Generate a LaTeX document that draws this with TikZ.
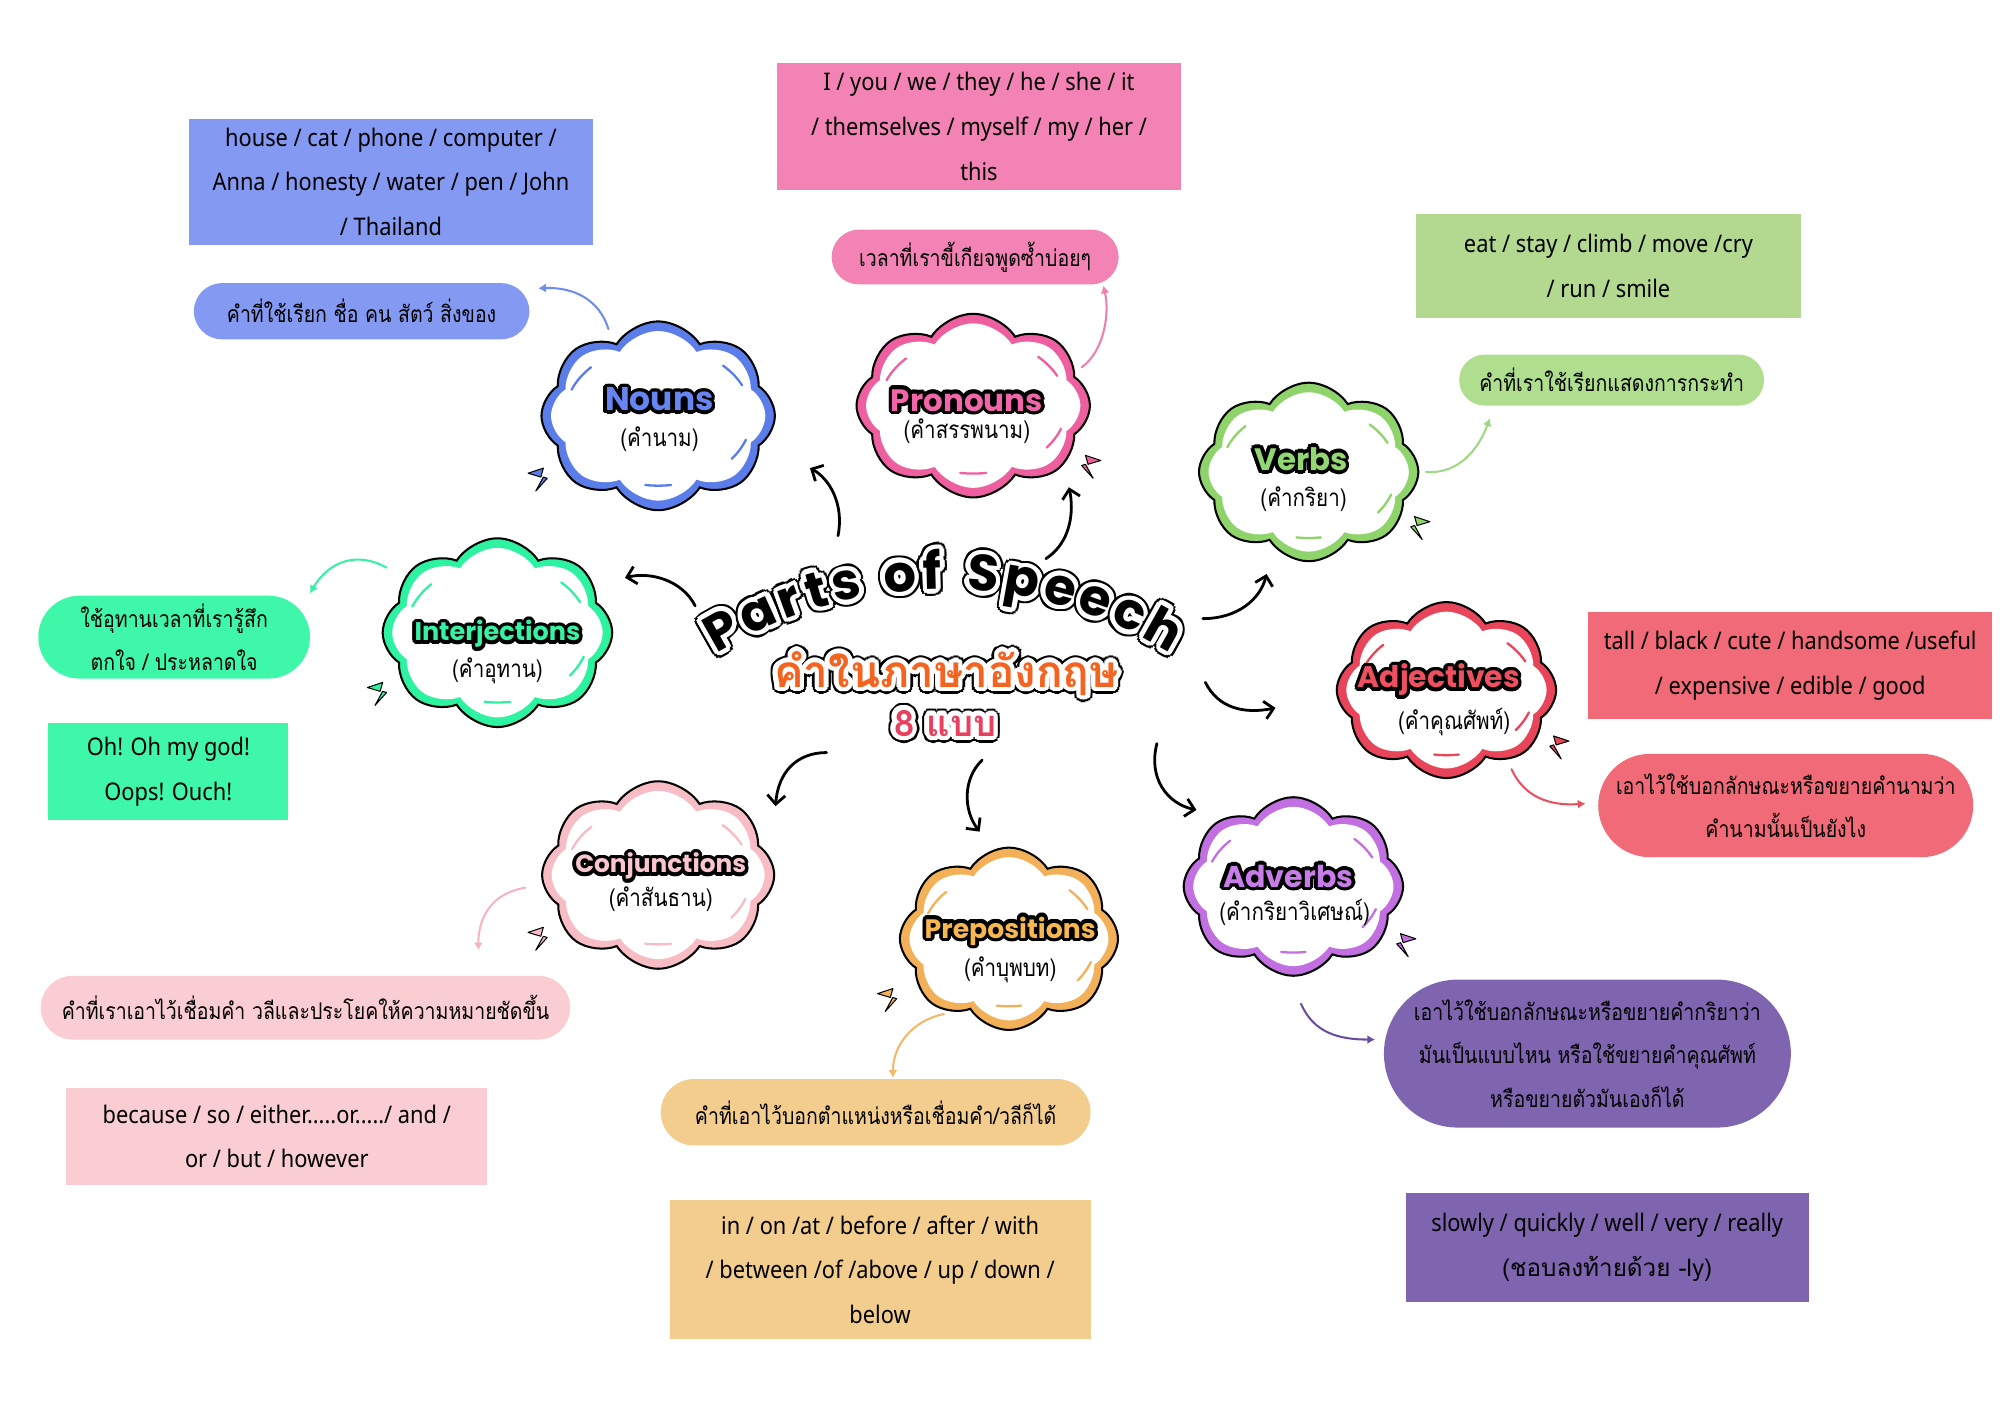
\documentclass[tikz,border=0pt]{standalone}
\usepackage{graphicx}
\usepackage{fontspec}
\usetikzlibrary{shapes.symbols,shapes.misc,arrows.meta}
\setmainfont{Noto Sans}
\newfontfamily\thai[Script=Thai]{Loma}
\newfontfamily\thain[Script=Thai,FakeStretch=0.85]{Loma}
\newfontfamily\hand[FakeStretch=0.9]{Noto Sans}
\newfontfamily\bub{Poppins}

\definecolor{nounL}{HTML}{8399F2}\definecolor{nounS}{HTML}{5B7DEA}\definecolor{nounT}{HTML}{6685F0}\definecolor{nounA}{HTML}{6E8CEB}
\definecolor{proL}{HTML}{F383B5}\definecolor{proS}{HTML}{EE5FA0}\definecolor{proT}{HTML}{F066A9}\definecolor{proA}{HTML}{EE7DB0}
\definecolor{verbL}{HTML}{B2D98F}\definecolor{verbP}{HTML}{B0DE8F}\definecolor{verbS}{HTML}{8ED46B}\definecolor{verbT}{HTML}{93D774}\definecolor{verbA}{HTML}{9ED883}
\definecolor{adjL}{HTML}{F06A77}\definecolor{adjS}{HTML}{E8455B}\definecolor{adjT}{HTML}{EE5060}\definecolor{adjA}{HTML}{E8505F}
\definecolor{advL}{HTML}{7F64AF}\definecolor{advS}{HTML}{C16FE1}\definecolor{advT}{HTML}{C77CE7}\definecolor{advA}{HTML}{6A4CA3}
\definecolor{prepL}{HTML}{F2CD8D}\definecolor{prepS}{HTML}{F2B158}\definecolor{prepT}{HTML}{F6B650}\definecolor{prepA}{HTML}{F2B868}
\definecolor{conjL}{HTML}{F9CDD1}\definecolor{conjS}{HTML}{F7BCC4}\definecolor{conjT}{HTML}{F9C6CD}\definecolor{conjA}{HTML}{F5B5BE}
\definecolor{intL}{HTML}{3FF7A8}\definecolor{intS}{HTML}{2DF2A0}\definecolor{intT}{HTML}{38F2A3}\definecolor{intA}{HTML}{3AEFA3}
\definecolor{thaiOr}{HTML}{F4631F}\definecolor{eightC}{HTML}{E8405F}

% outlined text: copies of the content around a circle
\newcommand\ringcopies[3]{%
  \foreach \oa in {0,22.5,...,337.5}{%
    \pgfmathsetlengthmacro\oltdx{#2*cos(\oa)}%
    \pgfmathsetlengthmacro\oltdy{#2*sin(\oa)}%
    \rlap{\kern\oltdx\raisebox{\oltdy}{\color{#1}#3}}}}
\newcommand\olt[4]{\hbox{\ringcopies{#2}{#3}{#4}{\color{#1}#4}}}
\newcommand\oltt[6]{\hbox{\ringcopies{#3}{#5}{#6}\ringcopies{#2}{#4}{#6}{\color{#1}#6}}}
\newcommand\ttl[3]{\olt{#1}{black}{2.8}{\resizebox{#2}{!}{\bub\bfseries #3}}}

\tikzset{
  listbox/.style={rectangle, inner sep=0pt, font=\hand\fontsize{19}{35}\selectfont, align=center, text=black},
  pillbox/.style={rounded rectangle, inner sep=0pt, font=\thain\fontsize{18}{34}\selectfont, align=center, text=black},
  cloudo/.style={cloud, cloud puffs=8, cloud puff arc=115, cloud ignores aspect, draw=black, line width=1.6pt, inner sep=0pt},
  cloudi/.style={cloud, cloud puffs=8, cloud puff arc=115, cloud ignores aspect, fill=white, inner sep=0pt},
  mainarrow/.style={draw=black, line width=2.2pt, line cap=round, -{Straight Barb[length=7pt,width=14pt]}},
  subarrow/.style={line width=1.6pt, line cap=round, -{Latex[length=6pt,width=7pt]}},
  subttl/.style={font=\thain\fontsize{19}{20}\selectfont, inner sep=0pt, text=black},
  ttlnode/.style={inner sep=0pt},
}

\newcommand\cloudhl[5]{%
  \begin{scope}[shift={(#1,#2)}]
  \foreach \hs/\he in {-158/-136, -46/-26, 20/38, 82/98}{%
    \draw[#5, line width=1.8pt, line cap=round] plot[domain=\hs:\he, samples=9, smooth] ({0.40*#3*cos(\x)},{0.37*#4*sin(\x)});
  }
  \end{scope}}
\newcommand\mkcloud[6]{%
  \node[cloudo, fill=#6, minimum width=#4, minimum height=#5] (#1) at (#2,#3) {};
  \node[cloudi, minimum width=#4-15, minimum height=#5-15] (#1in) at (#2,#3) {};
  \cloudhl{#2}{#3}{#4}{#5}{#6}}
\newcommand\spark[4]{%
  \begin{scope}[shift={(#1,#2)}, xscale=#3]
    \filldraw[fill=#4, draw=black, line width=0.8pt, line join=round] (0,4) -- (12,0) -- (10,7) -- cycle;
    \filldraw[fill=#4, draw=black, line width=0.8pt, line join=round] (6,18) -- (12,7) -- (15,8) -- cycle;
  \end{scope}}

\begin{document}
\begin{tikzpicture}[x=1pt,y=-1pt]
\useasboundingbox (0,0) rectangle (1568,1109);
\fill[white] (0,0) rectangle (1568,1109);

% ---------- list boxes ----------
\node[listbox, fill=nounL, minimum width=317, minimum height=99] (nounlist) at (306.5,142.5) {house / cat / phone / computer /\\Anna / honesty / water / pen / John\\/ Thailand};
\node[listbox, fill=proL, minimum width=317, minimum height=100] (prolist) at (767.5,99) {I / you / we / they / he / she / it\\/ themselves / myself / my / her /\\this};
\node[listbox, fill=verbL, minimum width=302, minimum height=81] (verblist) at (1261,208.5) {eat / stay / climb / move /cry\\/ run / smile};
\node[listbox, fill=adjL, minimum width=317, minimum height=84] (adjlist) at (1403.5,522) {tall / black / cute / handsome /useful\\/ expensive / edible / good};
\node[listbox, fill=advL, minimum width=316, minimum height=86] (advlist) at (1260,978) {slowly / quickly / well / very / really\\{\thai (ชอบลงท้ายด้วย -ly)}};
\node[listbox, fill=prepL, minimum width=330, minimum height=109] (preplist) at (690,995.5) {in / on /at / before / after / with\\/ between /of /above / up / down /\\below};
\node[listbox, fill=conjL, minimum width=330, minimum height=76] (conjlist) at (217,891) {because / so / either.....or...../ and /\\or / but / however};
\node[listbox, fill=intL, minimum width=188, minimum height=76] (intlist) at (132,605) {Oh! Oh my god!\\Oops! Ouch!};

% ---------- pills ----------
\node[pillbox, fill=nounL, minimum width=263, minimum height=44] (nounpill) at (283.5,244) {คำที่ใช้เรียก ชื่อ คน สัตว์ สิ่งของ};
\node[pillbox, fill=proL, minimum width=225, minimum height=43] (propill) at (764.5,201.5) {เวลาที่เราขี้เกียจพูดซ้ำบ่อยๆ};
\node[pillbox, fill=verbP, minimum width=239, minimum height=40] (verbpill) at (1263.5,298) {คำที่เราใช้เรียกแสดงการกระทำ};
\node[pillbox, fill=adjL, minimum width=294, minimum height=81] (adjpill) at (1400,631.5) {เอาไว้ใช้บอกลักษณะหรือขยายคำนามว่า\\คำนามนั้นเป็นยังไง};
\node[pillbox, fill=advL, minimum width=319, minimum height=116] (advpill) at (1244.5,826) {เอาไว้ใช้บอกลักษณะหรือขยายคำกริยาว่า\\มันเป็นแบบไหน หรือใช้ขยายคำคุณศัพท์\\หรือขยายตัวมันเองก็ได้};
\node[pillbox, fill=prepL, minimum width=337, minimum height=52] (preppill) at (686.5,872) {คำที่เอาไว้บอกตำแหน่งหรือเชื่อมคำ/วลีก็ได้};
\node[pillbox, fill=conjL, minimum width=415, minimum height=50] (conjpill) at (239.5,790) {คำที่เราเอาไว้เชื่อมคำ วลีและประโยคให้ความหมายชัดขึ้น};
\node[pillbox, fill=intL, minimum width=213, minimum height=65] (intpill) at (136.5,499.5) {ใช้อุทานเวลาที่เรารู้สึก\\ตกใจ / ประหลาดใจ};

% ---------- clouds ----------
\mkcloud{nouns}{516}{326}{183}{148}{nounS}
\mkcloud{pron}{763}{318}{183}{144}{proS}
\mkcloud{verbs}{1026}{370}{172}{140}{verbS}
\mkcloud{adjs}{1134}{541}{172}{138}{adjS}
\mkcloud{advs}{1014}{695}{172}{140}{advS}
\mkcloud{preps}{791}{736}{171}{143}{prepS}
\mkcloud{conjs}{516}{686}{182}{147}{conjS}
\mkcloud{ints}{390}{496}{180}{148}{intS}

\spark{414}{367}{1}{nounS}
\spark{863}{357}{-1}{proS}
\spark{1121}{405}{-1}{verbS}
\spark{1230}{577}{-1}{adjS}
\spark{1110}{732}{-1}{advS}
\spark{688}{775}{1}{prepS}
\spark{414}{727}{1}{conjS}
\spark{288}{535}{1}{intS}

% ---------- cloud titles ----------
\node[ttlnode] (nounsT) at (517,313) {\ttl{nounT}{85pt}{Nouns}};
\node[subttl] (nounsS) at (517,344) {(คำนาม)};
\node[ttlnode] (pronT) at (758,314) {\ttl{proT}{119pt}{Pronouns}};
\node[subttl] (pronS) at (758,338) {(คำสรรพนาม)};
\node[ttlnode] (verbsT) at (1020,360) {\ttl{verbT}{73pt}{Verbs}};
\node[subttl] (verbsS) at (1022,391) {(คำกริยา)};
\node[ttlnode] (adjsT) at (1128,533) {\ttl{adjT}{127pt}{Adjectives}};
\node[subttl] (adjsS) at (1140,566) {(คำคุณศัพท์)};
\node[ttlnode] (advsT) at (1010,687) {\ttl{advT}{102pt}{Adverbs}};
\node[subttl] (advsS) at (1015,715) {(คำกริยาวิเศษณ์)};
\node[ttlnode] (prepsT) at (792,730) {\ttl{prepT}{134pt}{Prepositions}};
\node[subttl] (prepsS) at (792,760) {(คำบุพบท)};
\node[ttlnode] (conjsT) at (518,679) {\ttl{conjT}{134pt}{Conjunctions}};
\node[subttl] (conjsS) at (518,705) {(คำสันธาน)};
\node[ttlnode] (intsT) at (390,497) {\ttl{intT}{130pt}{Interjections}};
\node[subttl] (intsS) at (390,526) {(คำอุทาน)};

% ---------- central title ----------
\foreach \ch/\an [count=\i] in {P/-119.5, a/-114.41, r/-110.07, t/-106.45, s/-102.53, o/-95.64, f/-91.46, S/-84.97, p/-79.91, e/-74.98, e/-70.21, c/-65.54, h/-60.74}{
  \node[ttlnode, anchor=base, rotate={-1*(\an)-90}] (letter\i) at ([shift={(740,802)}]\an:340) {\oltt{black}{white}{black}{3.6}{5.4}{\bub\bfseries\fontsize{40}{40}\selectfont \ch}};
}
\node[ttlnode] (ttlth) at (742,528) {\oltt{thaiOr}{white}{black}{3.6}{5.4}{\resizebox{270pt}{!}{\thai\bfseries คำในภาษาอังกฤษ}}};
\node[ttlnode] (ttl8) at (741,567) {\oltt{eightC}{white}{black}{3.6}{5.4}{\resizebox{80pt}{!}{\thai\bfseries 8 แบบ}}};

% ---------- main arrows ----------
\coordinate (aN0) at (657,420); \coordinate (aN1) at (635,367);
\draw[mainarrow] (aN0) .. controls (662,395) and (650,375) .. (aN1);
\coordinate (aP0) at (820,438); \coordinate (aP1) at (838,382);
\draw[mainarrow] (aP0) .. controls (840,425) and (842,400) .. (aP1);
\coordinate (aV0) at (943,485); \coordinate (aV1) at (993,450);
\draw[mainarrow] (aV0) .. controls (970,485) and (988,470) .. (aV1);
\coordinate (aA0) at (945,535); \coordinate (aA1) at (1000,555);
\draw[mainarrow] (aA0) .. controls (955,555) and (975,560) .. (aA1);
\coordinate (aD0) at (907,583); \coordinate (aD1) at (938,635);
\draw[mainarrow] (aD0) .. controls (900,610) and (915,630) .. (aD1);
\coordinate (aR0) at (770,596); \coordinate (aR1) at (768,652);
\draw[mainarrow] (aR0) .. controls (755,610) and (755,635) .. (aR1);
\coordinate (aC0) at (648,590); \coordinate (aC1) at (608,632);
\draw[mainarrow] (aC0) .. controls (625,590) and (610,605) .. (aC1);
\coordinate (aI0) at (545,475); \coordinate (aI1) at (490,453);
\draw[mainarrow] (aI0) .. controls (535,455) and (510,448) .. (aI1);

% ---------- coloured arrows ----------
\coordinate (cN0) at (477,258); \coordinate (cN1) at (422,226);
\draw[subarrow, nounA] (cN0) .. controls (470,235) and (450,225) .. (cN1);
\coordinate (cP0) at (848,288); \coordinate (cP1) at (865,224);
\draw[subarrow, proA] (cP0) .. controls (866,275) and (870,245) .. (cP1);
\coordinate (cV0) at (1118,370); \coordinate (cV1) at (1168,328);
\draw[subarrow, verbA] (cV0) .. controls (1145,372) and (1160,350) .. (cV1);
\coordinate (cA0) at (1185,603); \coordinate (cA1) at (1243,630);
\draw[subarrow, adjA] (cA0) .. controls (1195,625) and (1215,632) .. (cA1);
\coordinate (cD0) at (1020,787); \coordinate (cD1) at (1078,815);
\draw[subarrow, advA] (cD0) .. controls (1030,810) and (1050,815) .. (cD1);
\coordinate (cR0) at (740,795); \coordinate (cR1) at (700,845);
\draw[subarrow, prepA] (cR0) .. controls (715,800) and (700,820) .. (cR1);
\coordinate (cC0) at (412,696); \coordinate (cC1) at (375,745);
\draw[subarrow, conjA] (cC0) .. controls (385,700) and (375,720) .. (cC1);
\coordinate (cI0) at (303,445); \coordinate (cI1) at (243,465);
\draw[subarrow, intA] (cI0) .. controls (280,432) and (258,440) .. (cI1);
\end{tikzpicture}
\end{document}
